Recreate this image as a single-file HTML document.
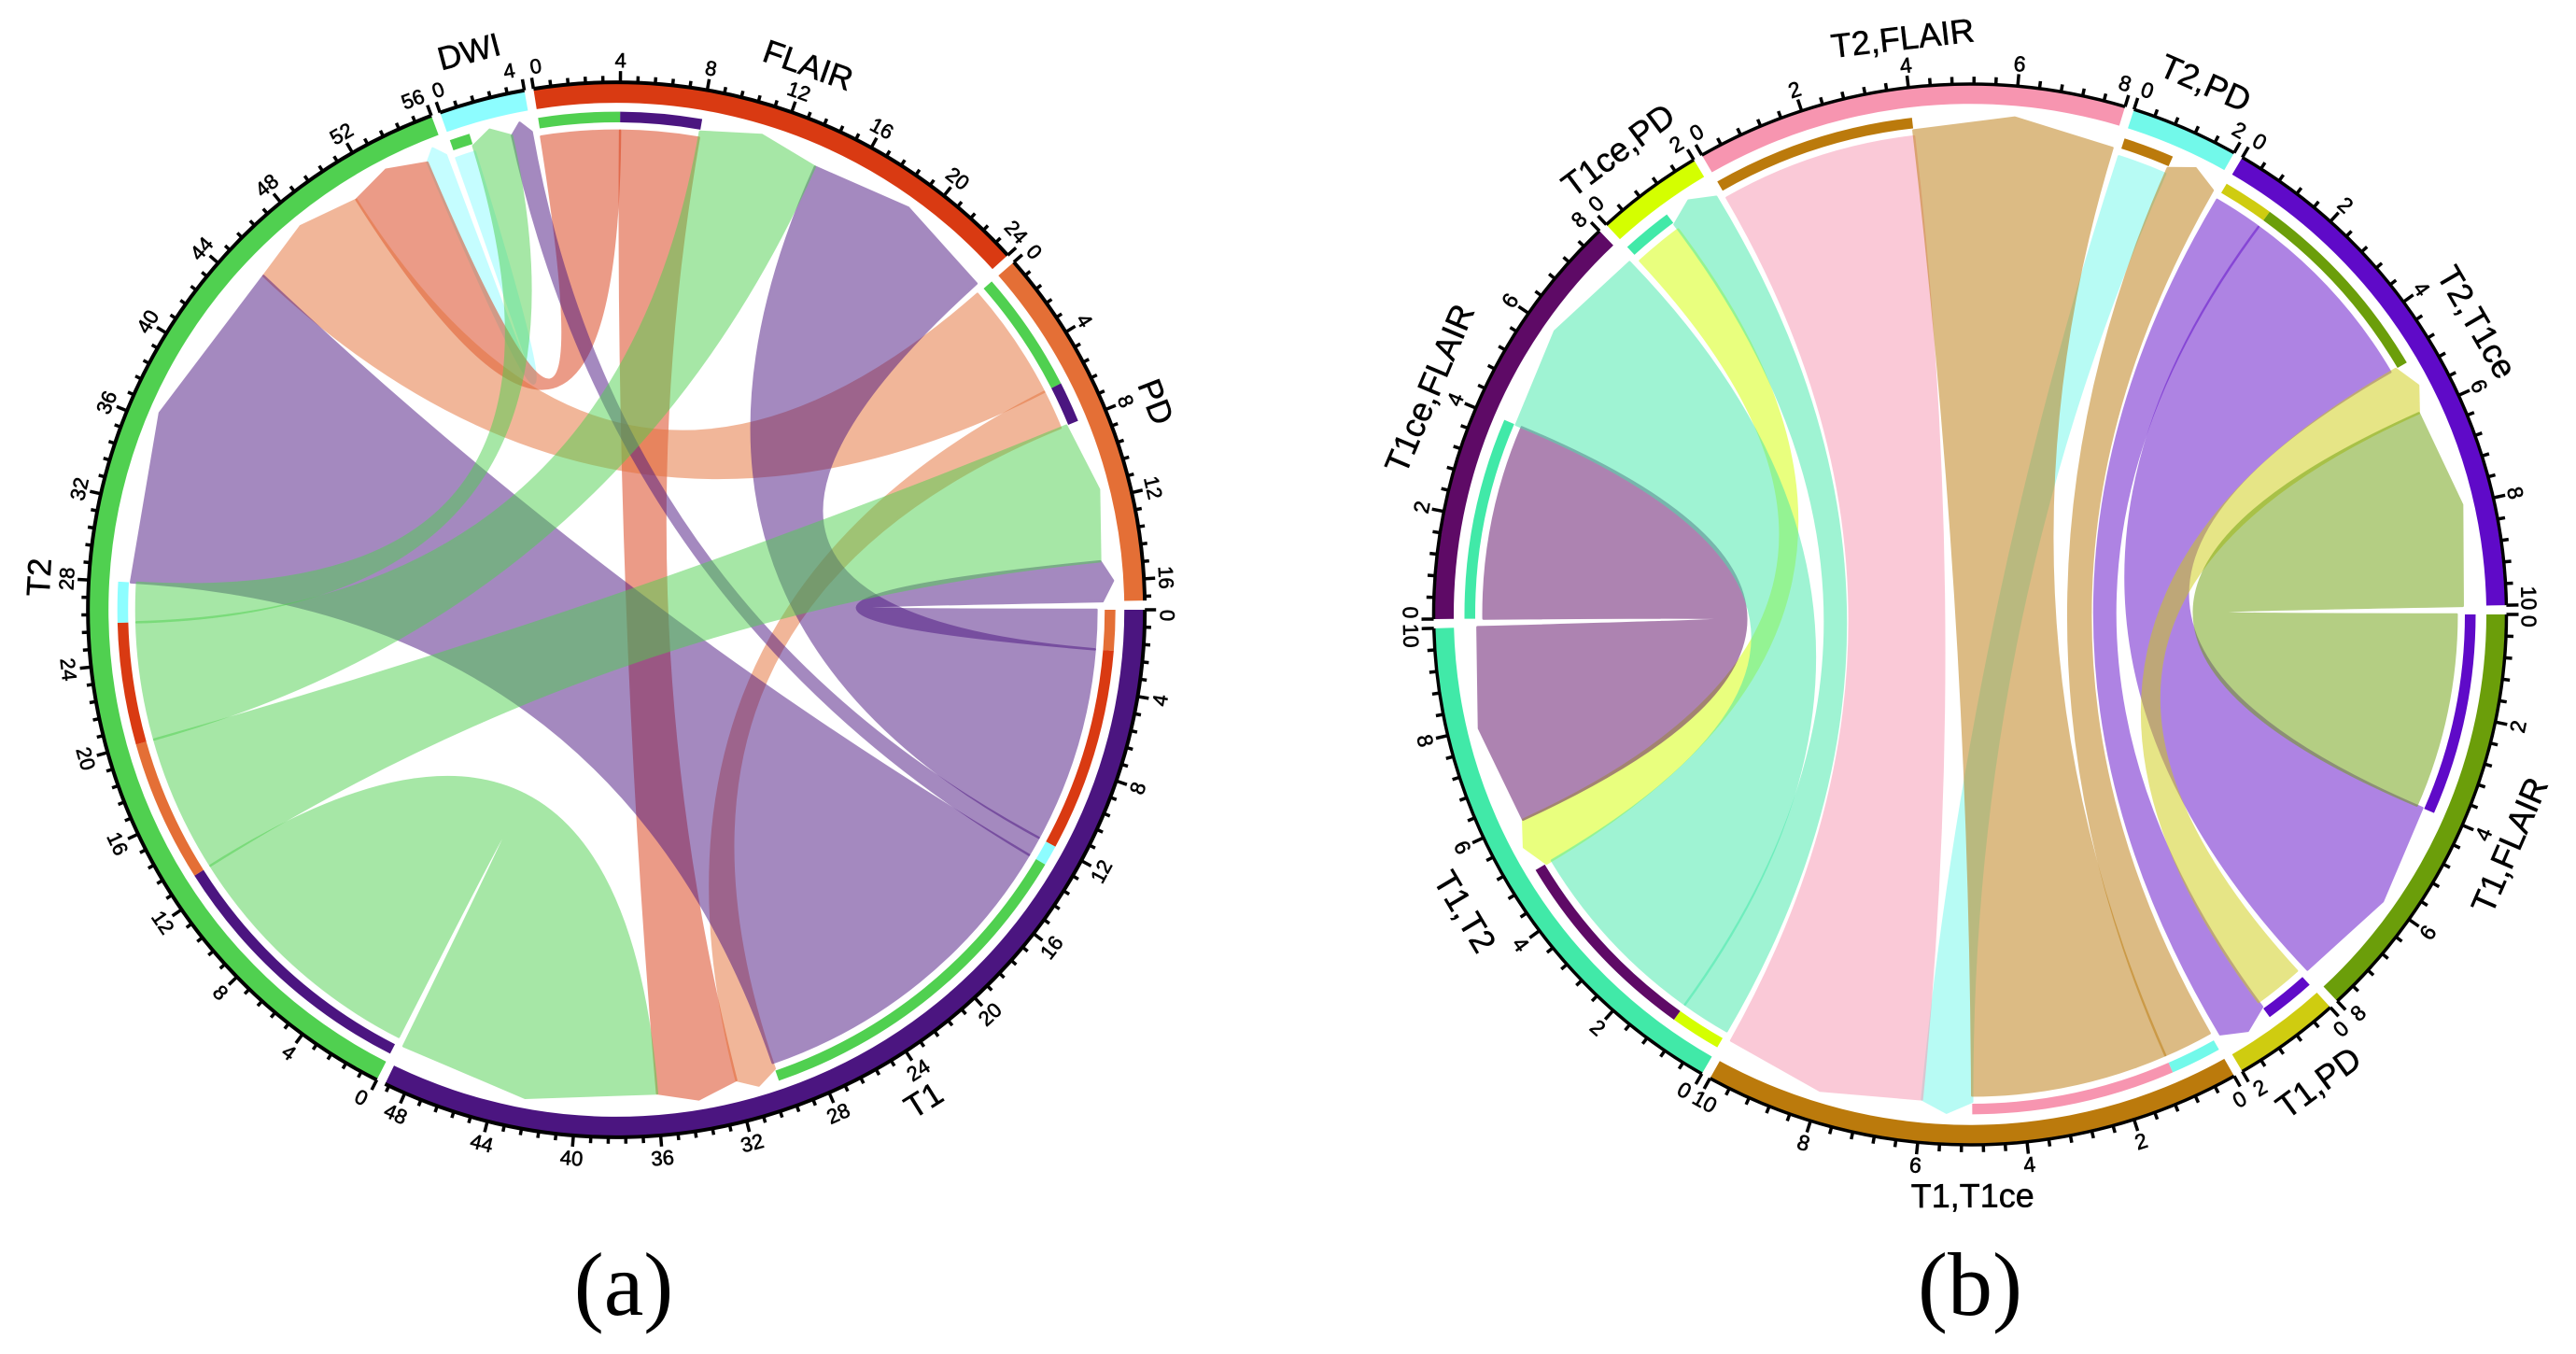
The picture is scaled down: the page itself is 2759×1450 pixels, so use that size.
<!DOCTYPE html>
<html lang="en">
<head>
<meta charset="utf-8">
<title>Chord diagrams (a) and (b)</title>
<style>
html,body{margin:0;padding:0;background:#fff;}
svg{display:block;}
text{font-family:"Liberation Sans",Arial,sans-serif;fill:#000;}
.cap{font-family:"Liberation Serif","Times New Roman",serif;}
</style>
</head>
<body>
<svg id="chart" xmlns="http://www.w3.org/2000/svg" width="2759" height="1450" viewBox="0 0 2759 1450">
<rect x="0" y="0" width="2759" height="1450" fill="#ffffff"/>
<g id="panelA"></g>
<g id="panelB"></g>
<text class="cap" x="668" y="1408" font-size="96" text-anchor="middle">(a)</text>
<text class="cap" x="2110" y="1408" font-size="96" text-anchor="middle">(b)</text>
</svg>
<script>
// ---------- panel (a) data ----------
const aSectors = ["T1","T2","DWI","FLAIR","PD"];
const aSizes = [49,56,4,24,17];
const aColors = ["#4b1580","#50d050","#8dfdff","#d93a12","#e46f36"];
const aLinkSource = [2,3,3,4,4,0,0,0,0,1,1,1,1];
const aLinkSourceStart = [0,0,4,0,6,0,2,12,13,0,13,20,26];
const aLinkSourceEnd = [1,4,8,6,8,2,12,13,30,13,20,26,28];
const aLinkTarget = [1,1,0,1,0,4,3,2,1,0,4,3,2];
const aLinkTargetStart = [55,51,32,45,30,15,14,3,28,36,8,8,1];
const aLinkTargetEnd = [56,55,36,51,32,17,24,4,45,49,15,14,3];
const aMajorTick = [4];

// ---------- panel (b) data ----------
const bSectors = ["T1,FLAIR","T1,PD","T1,T1ce","T1,T2","T1ce,FLAIR","T1ce,PD","T2,FLAIR","T2,PD","T2,T1ce"];
const bSizes = [8,2,10,10,8,2,8,2,10];
const bColors = ["#6b9e0a","#cfcc10","#bb7a0c","#41e9a8","#5e0a66","#d4ff00","#f795b0","#72f9ea","#5f0ac8"];
const bLinkSource = [7,6,8,8,5,4,1,3,3,2,2,0];
const bLinkSourceStart = [0,0,0,1,0,0,0,0,1,1,0,0];
const bLinkSourceEnd = [1,4,1,5,1,4,1,1,5,5,1,4];
const bLinkTarget = [2,2,1,0,3,3,8,5,4,6,7,8];
const bLinkTargetStart = [5,6,1,4,5,6,5,1,4,4,1,6];
const bLinkTargetEnd = [6,10,2,8,6,10,6,2,8,8,2,10];
const bMajorTick = [2];

const NS = "http://www.w3.org/2000/svg";
function mk(tag){ return document.createElementNS(NS, tag); }

function drawChord(parent, geo, names, sizes, colors, src, srcS, srcE, tgt, tgtS, tgtE, major, prefix){
  const gap = 1;
  const total = sizes.reduce(function(a,b){return a+b;},0);
  const unit = (360 - gap*names.length)/total;
  const starts = [];
  let acc = geo.start;
  for(let i=0;i<names.length;i++){ starts.push(acc); acc += sizes[i]*unit + gap; }
  // axis function: sector + value -> angle
  function ang(s,v){ return starts[s] + v*unit; }
  function pt(a,r){
    const t = a*Math.PI/180;
    return [geo.cx + r*Math.cos(t), geo.cy + r*geo.ky*Math.sin(t)];
  }
  function f(p){ return p[0].toFixed(2)+" "+p[1].toFixed(2); }
  function arcTo(a0,a1,r){
    const large = Math.abs(a1-a0)>180 ? 1 : 0;
    const sweep = a1>a0 ? 1 : 0;
    return "A"+r+" "+(r*geo.ky).toFixed(3)+" 0 "+large+" "+sweep+" "+f(pt(a1,r));
  }
  function band(a0,a1,r0,r1){
    return "M"+f(pt(a0,r1))+arcTo(a0,a1,r1)+"L"+f(pt(a1,r0))+arcTo(a1,a0,r0)+"Z";
  }
  function rotation(a){
    const m = ((a%360)+360)%360;
    return (m>0 && m<180) ? m-90 : m+90;
  }
  const centre = geo.cx.toFixed(2)+" "+geo.cy.toFixed(2);

  // links
  for(let i=0;i<src.length;i++){
    const a0 = ang(src[i],srcS[i]), a1 = ang(src[i],srcE[i]);
    const b0 = ang(tgt[i],tgtS[i]), b1 = ang(tgt[i],tgtE[i]);
    const d = "M"+f(pt(a0,geo.rSource))+arcTo(a0,a1,geo.rSource)+
      "Q"+centre+" "+f(pt(b0,geo.rArrow))+
      "L"+f(pt((b0+b1)/2,geo.rTip))+
      "L"+f(pt(b1,geo.rArrow))+
      "Q"+centre+" "+f(pt(a0,geo.rSource))+"Z";
    const link = mk("path");
    link.setAttribute("d",d);
    link.setAttribute("fill",colors[src[i]]);
    link.setAttribute("stroke",colors[src[i]]);
    link.setAttribute("stroke-width","2.5");
    link.setAttribute("stroke-linejoin","round");
    link.setAttribute("opacity","0.5");
    
    
    parent.appendChild(link);
  }
  // white mask ring keeps the link roots from bleeding into the bars
  // source bars, coloured by target
  for(let i=0;i<src.length;i++){
    const bar = mk("path");
    bar.setAttribute("d",band(ang(src[i],srcS[i]),ang(src[i],srcE[i]),geo.rBar0,geo.rBar1));
    bar.setAttribute("fill",colors[tgt[i]]);
    
    
    parent.appendChild(bar);
  }
  // sectors
  for(let s=0;s<names.length;s++){
    const a0 = ang(s,0), a1 = ang(s,sizes[s]);
    const ring = mk("path");
    ring.setAttribute("d",band(a0,a1,geo.rRing0,geo.rRing1));
    ring.setAttribute("fill",colors[s]);
    
    
    parent.appendChild(ring);

    const axis = mk("path");
    axis.setAttribute("d","M"+f(pt(a0,geo.rAxis))+arcTo(a0,a1,geo.rAxis));
    axis.setAttribute("fill","none");
    axis.setAttribute("stroke","#000");
    axis.setAttribute("stroke-width",geo.axisW);
    
    
    parent.appendChild(axis);

    const step = major/5;
    for(let k=0;k*step<=sizes[s]+1e-6;k++){
      const v = k*step, a = ang(s,v), isMajor = k%5===0;
      const tick = mk("line");
      const p0 = pt(a,geo.rAxis), p1 = pt(a,geo.rAxis+(isMajor?geo.tickMajor:geo.tickMinor));
      tick.setAttribute("x1",p0[0].toFixed(2));
      tick.setAttribute("y1",p0[1].toFixed(2));
      tick.setAttribute("x2",p1[0].toFixed(2));
      tick.setAttribute("y2",p1[1].toFixed(2));
      tick.setAttribute("stroke","#000");
      tick.setAttribute("stroke-width",geo.tickW);
      
      
      parent.appendChild(tick);
      if(isMajor){
        let la = a;
        if(k===0){ la += geo.shiftStart; }
        else if(Math.abs(v-sizes[s])<1e-6){ la -= geo.shiftEnd; }
        const q = pt(la,geo.rTick);
        const lab = mk("text");
        lab.setAttribute("x",q[0].toFixed(2));
        lab.setAttribute("y",q[1].toFixed(2));
        lab.setAttribute("font-size",geo.tickFont);
        lab.setAttribute("text-anchor","middle");
        lab.setAttribute("dy","0.36em");
        lab.setAttribute("stroke","#000");
        lab.setAttribute("stroke-width","0.6");
        lab.setAttribute("transform","rotate("+rotation(a).toFixed(2)+" "+q[0].toFixed(2)+" "+q[1].toFixed(2)+")");
        
        
        lab.textContent = String(Math.round(v));
        parent.appendChild(lab);
      }
    }
    const mid = (a0+a1)/2, n = pt(mid,geo.rName);
    const name = mk("text");
    name.setAttribute("x",n[0].toFixed(2));
    name.setAttribute("y",n[1].toFixed(2));
    name.setAttribute("font-size",geo.nameFont);
    name.setAttribute("text-anchor","middle");
    name.setAttribute("dy","0.36em");
    name.setAttribute("stroke","#000");
    name.setAttribute("stroke-width","0.5");
    name.setAttribute("transform","rotate("+rotation(mid).toFixed(2)+" "+n[0].toFixed(2)+" "+n[1].toFixed(2)+")");
    
    
    name.textContent = names[s];
    parent.appendChild(name);
  }
}

const geoA = {cx:660.2,cy:653,ky:0.998,start:0,rSource:514.2,rArrow:520.8,rTip:532.8,rBar0:523,rBar1:534.5,rRing0:544,rRing1:565,rAxis:566,axisW:4,tickMajor:12,tickMinor:7,tickW:3.5,tickFont:22,rTick:590,rName:620,nameFont:35,shiftStart:0.6,shiftEnd:1.2};
const geoB = {cx:2110,cy:658,ky:0.9887,start:0,rSource:521.2,rArrow:527.8,rTip:540.3,rBar0:530,rBar1:541.5,rRing0:553,rRing1:573,rAxis:574.5,axisW:3.5,tickMajor:13,tickMinor:8,tickW:3.5,tickFont:23,rTick:599,rName:629,nameFont:36,shiftStart:0.7,shiftEnd:0.7};

drawChord(document.getElementById("panelA"),geoA,aSectors,aSizes,aColors,
  aLinkSource,aLinkSourceStart,aLinkSourceEnd,aLinkTarget,aLinkTargetStart,aLinkTargetEnd,aMajorTick[0],"a");

drawChord(document.getElementById("panelB"),geoB,bSectors,bSizes,bColors,
  bLinkSource,bLinkSourceStart,bLinkSourceEnd,bLinkTarget,bLinkTargetStart,bLinkTargetEnd,bMajorTick[0],"b");
</script>
</body>
</html>
